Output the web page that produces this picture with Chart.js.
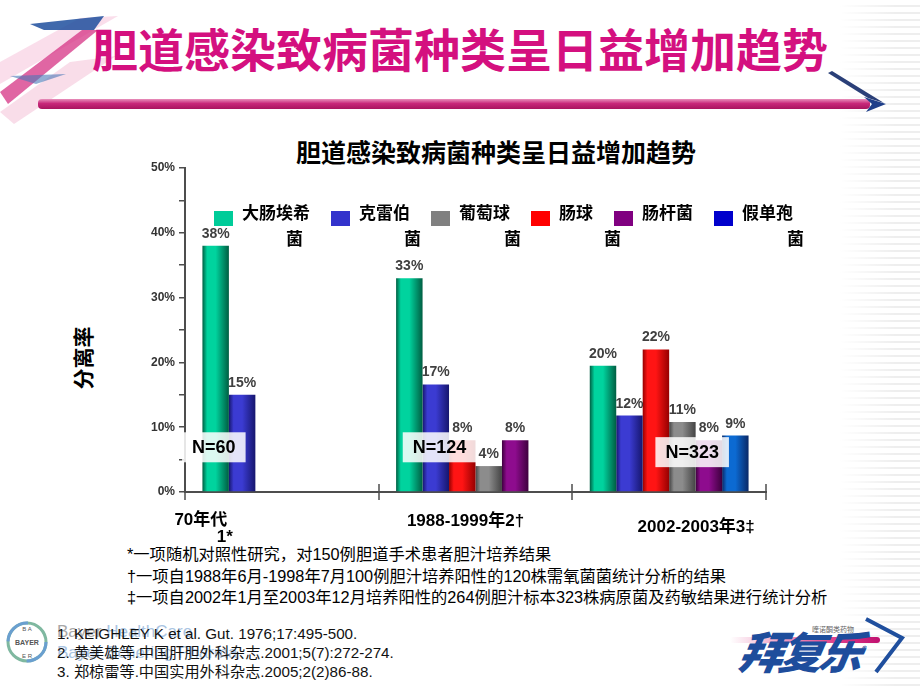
<!DOCTYPE html>
<html>
<head>
<meta charset="utf-8">
<script src="https://cdn.jsdelivr.net/npm/chart.js@4.4.1/dist/chart.umd.min.js"></script>
<style>
body { margin: 0; background: #fff; }
#slide { position: relative; width: 920px; height: 690px; overflow: hidden; background: #fff; font-family: 'Noto Sans CJK SC', sans-serif; }
#slide > * { position: absolute; }
.stripes { left: 840px; top: 0; width: 80px; height: 690px;
  background: linear-gradient(to right, #fff, rgba(255,255,255,0) 70%), repeating-linear-gradient(to bottom, #fff 0 5px, #eeeeee 5px 7px); }
.mainTitle { left: 92px; top: 22px; font-size: 46px; line-height: 50px; font-weight: bold; color: #d4107f; white-space: nowrap; }
.pinkBar { left: 38px; top: 99px; width: 832px; height: 10px; border-radius: 4px;
  background: linear-gradient(to bottom, #e890bb, #c8287a 45%, #a8155f); }
.chartTitle { left: 246px; top: 136px; width: 500px; text-align: center; font-size: 25px; line-height: 30px; font-weight: bold; color: #000; }
.yTitle { left: 47px; top: 346px; width: 70px; height: 24px; line-height: 24px; text-align: center; font-size: 21px; font-weight: bold; color: #000; transform: rotate(-90deg); }
.notes { left: 127px; top: 544px; font-family: 'Liberation Sans', Arial, 'Noto Sans CJK SC', sans-serif; font-size: 16.3px; line-height: 21.5px; color: #000; white-space: nowrap; }
.bayerText { left: 57px; top: 621px; font-family: 'Liberation Sans', Arial, sans-serif; font-size: 17px; line-height: 21px; color: #a9c4e2; white-space: nowrap; }
.refs { left: 57px; top: 624px; font-family: 'Liberation Sans', Arial, 'Noto Sans CJK SC', sans-serif; font-size: 15.2px; line-height: 19px; color: #111; white-space: nowrap; }
.brand { left: 740px; top: 626px; font-size: 44px; line-height: 48px; font-weight: 900; font-style: italic; color: #1e4d9c; letter-spacing: -4px; transform: skewX(-10deg); }
.brandSmall { left: 812px; top: 624px; font-size: 7px; color: #666; }
.swoosh { left: 730px; top: 637px; width: 150px; height: 6px; border-radius: 3px;
  background: linear-gradient(to right, rgba(235,140,185,0), #e0408a 70%, #c01070); }
#chartBox { left: 0; top: 0; width: 920px; height: 690px; }
</style>
</head>
<body>
<div id="slide">
  <div class="stripes"></div>
  <svg style="left:0;top:0" width="200" height="130">
    <polygon points="0,62 80,18 118,16 0,84" fill="#f3b6d2" opacity="0.45"/>
    <polygon points="0,112 70,62 116,56 14,124" fill="#f1a9c9" opacity="0.4"/>
    <polygon points="30,24 104,16 94,30 44,30" fill="#1f4f9e" opacity="0.85"/>
    <polygon points="0,92 82,30 98,30 8,104" fill="#d63384" opacity="0.75"/>
    <polygon points="10,76 66,74 36,84" fill="#4a78b8" opacity="0.6"/>
  </svg>
  <div class="mainTitle">胆道感染致病菌种类呈日益增加趋势</div>
  <div class="pinkBar"></div>
  <svg style="left:820px;top:66px" width="80" height="50">
    <polygon points="8,7 12,5 64,37 48,32" fill="#2a3f78"/>
    <polygon points="44,31 66,38 46,46 52,38" fill="#1f3f8a"/>
  </svg>
  <div class="chartTitle">胆道感染致病菌种类呈日益增加趋势</div>
  <div class="yTitle">分离率</div>
  <div class="notes">*一项随机对照性研究，对150例胆道手术患者胆汁培养结果<br>†一项自1988年6月-1998年7月100例胆汁培养阳性的120株需氧菌菌统计分析的结果<br>‡一项自2002年1月至2003年12月培养阳性的264例胆汁标本323株病原菌及药敏结果进行统计分析</div>
  <svg style="left:5px;top:620px" width="44" height="44">
    <circle cx="22" cy="22" r="19" fill="#fff" stroke="#7fb8a0" stroke-width="3"/>
    <circle cx="22" cy="22" r="19" fill="none" stroke="#6a9fd0" stroke-width="3" stroke-dasharray="30 30"/>
    <text x="22" y="25" font-size="7" font-family="Liberation Sans" font-weight="bold" fill="#555" text-anchor="middle">BAYER</text>
    <text x="22" y="11" font-size="6" font-family="Liberation Sans" fill="#555" text-anchor="middle">B A</text>
    <text x="22" y="38" font-size="6" font-family="Liberation Sans" fill="#555" text-anchor="middle">E R</text>
  </svg>
  <div class="bayerText"><span style="color:#a8a8a8">Bayer</span> HealthCare<br>Bayer Schering Pharma</div>
  <div class="refs">1. KEIGHLEY K et al. Gut. 1976;17:495-500.<br>2. 黄美雄等.中国肝胆外科杂志.2001;5(7):272-274.<br>3. 郑椋雷等.中国实用外科杂志.2005;2(2)86-88.</div>
  <div class="swoosh"></div>
  <div class="brandSmall">喹诺酮类药物</div>
  <div class="brand">拜复乐<span style="font-size:9px;vertical-align:top;">®</span></div>
  <svg style="left:860px;top:614px" width="50" height="66">
    <polyline points="6,5 42,24 16,58" fill="none" stroke="#1f4f9e" stroke-width="4"/>
  </svg>
  <div id="chartBox"><canvas id="bacteriaChart"></canvas></div>
</div>
<script>
// periods (categories) and their footnote marks
const periods = ["70年代", "1988-1999年2†", "2002-2003年3‡"];
const periodNotes = ["1*", "", ""];
const sampleSizes = ["N=60", "N=124", "N=323"];

// isolation rate (%) per pathogen, one value per period
const seriesNames = ["大肠埃希菌", "克雷伯菌", "肠球菌", "葡萄球菌", "肠杆菌", "假单孢菌"];
const ecoli = [38, 33, 19.5];
const klebsiella = [15, 16.6, 11.8];
const enterococcus = [null, 8, 22];
const staphylococcus = [null, 4, 10.8];
const enterobacter = [null, 8, 8];
const pseudomonas = [null, null, 8.7];

// y axis: 0% - 50%, label every 10%
const yMax = 50;
const yStep = 5;

const lightColors = ["#00d39e", "#3b3bd2", "#ff1414", "#8c8c8c", "#8e0c8e", "#0c6ad2"];
const darkColors = ["#005e42", "#16166e", "#960000", "#444444", "#3e003e", "#0a2866"];
const legendColors = ["#00cc99", "#3333cc", "#ff0000", "#808080", "#800080", "#0000cc"];

// legend is drawn in this order, with the names wrapped like in the slide
const legendOrder = [0, 1, 3, 2, 4, 5];
const legendLines = [["大肠埃希", "菌"], ["克雷伯", "菌"], ["葡萄球", "菌"], ["肠球", "菌"], ["肠杆菌"], ["假单孢", "菌"]];
const legendWrapShift = [-24, -6, -6, 11, 0, -6];

const catPct = 0.82;
const catLabelShift = [-81, -10, 27];
const catLabelDrop = [28, 29, 35];
const nBoxShift = [-68, -36, 23];
const nBoxLevel = [6.9, 6.9, 6.15];

const LATIN = "'Liberation Sans', Arial, 'Noto Sans CJK SC', sans-serif";
const CJK = "'Noto Sans CJK SC', sans-serif";

function barFill(c) {
    const chart = c.chart;
    const x = chart.scales.x;
    const di = c.datasetIndex;
    if (!x || !chart.chartArea) return lightColors[di];
    const groupW = (x.width / periods.length) * catPct;
    const w = groupW / seriesNames.length;
    const left = x.getPixelForValue(c.dataIndex) - groupW / 2 + w * di;
    const g = chart.ctx.createLinearGradient(left, 0, left + w, 0);
    g.addColorStop(0, darkColors[di]);
    g.addColorStop(0.18, lightColors[di]);
    g.addColorStop(0.5, lightColors[di]);
    g.addColorStop(1, darkColors[di]);
    return g;
}

const annotate = {
    id: "annotate",
    afterDraw(chart) {
        const { ctx, chartArea, scales: { x, y } } = chart;
        ctx.save();

        // category boundary ticks crossing the x axis
        ctx.strokeStyle = "#4d4d4d";
        ctx.lineWidth = 1.5;
        for (let i = 0; i <= periods.length; i++) {
            const bx = Math.round(x.getPixelForValue(i - 0.5));
            ctx.beginPath();
            ctx.moveTo(bx, chartArea.bottom - 8);
            ctx.lineTo(bx, chartArea.bottom + 8);
            ctx.stroke();
        }

        // value labels
        ctx.font = "bold 14px " + LATIN;
        ctx.fillStyle = "#404040";
        ctx.textAlign = "center";
        ctx.textBaseline = "alphabetic";
        chart.data.datasets.forEach((ds, di) => {
            chart.getDatasetMeta(di).data.forEach((bar, i) => {
                const v = ds.data[i];
                if (v === null) return;
                ctx.fillText(Math.round(v) + "%", bar.x, bar.y - 8);
            });
        });

        // N= boxes
        ctx.font = "bold 18px " + LATIN;
        ctx.textBaseline = "middle";
        sampleSizes.forEach((txt, i) => {
            const cx = x.getPixelForValue(i) + nBoxShift[i];
            const cy = y.getPixelForValue(nBoxLevel[i]);
            const w = ctx.measureText(txt).width + 20;
            ctx.fillStyle = "rgba(255,255,255,0.86)";
            ctx.fillRect(cx - w / 2, cy - 15, w, 30);
            ctx.fillStyle = "#000";
            ctx.fillText(txt, cx, cy + 1);
        });

        // category labels
        ctx.font = "bold 17px " + LATIN;
        periods.forEach((p, i) => {
            const cx = x.getPixelForValue(i) + catLabelShift[i];
            const cy = chartArea.bottom + catLabelDrop[i];
            ctx.fillText(p, cx, cy);
            if (periodNotes[i]) ctx.fillText(periodNotes[i], cx + 24, cy + 17);
        });

        // legend
        let lx = chartArea.left + 29;
        const ly = chartArea.top + 43;
        ctx.textAlign = "left";
        ctx.font = "bold 17px " + CJK;
        legendOrder.forEach((di, k) => {
            ctx.fillStyle = legendColors[di];
            ctx.fillRect(lx, ly, 19, 15);
            ctx.fillStyle = "#000";
            const tx = lx + 28;
            const lines = legendLines[k];
            ctx.fillText(lines[0], tx, ly + 2);
            const w0 = ctx.measureText(lines[0]).width;
            if (lines[1]) ctx.fillText(lines[1], tx + w0 + legendWrapShift[k], ly + 28);
            lx = tx + w0 + 21;
        });

        ctx.restore();
    }
};

const seriesData = [ecoli, klebsiella, enterococcus, staphylococcus, enterobacter, pseudomonas];

new Chart(document.getElementById("bacteriaChart"), {
    type: "bar",
    data: {
        labels: periods,
        datasets: seriesData.map((d, i) => ({
            label: seriesNames[i],
            data: d,
            backgroundColor: barFill,
            borderWidth: 0,
            categoryPercentage: catPct,
            barPercentage: 1
        }))
    },
    options: {
        responsive: true,
        maintainAspectRatio: false,
        animation: false,
        devicePixelRatio: 1,
        layout: { padding: { top: 168, right: 154, bottom: 138, left: 0 } },
        plugins: {
            legend: { display: false },
            tooltip: { enabled: false },
            title: { display: false }
        },
        scales: {
            x: {
                grid: { display: false },
                border: { color: "#4d4d4d", width: 2 },
                ticks: { display: false },
                afterFit(s) { s.height = 60; }
            },
            y: {
                min: 0,
                max: yMax,
                ticks: {
                    stepSize: yStep,
                    padding: 4,
                    color: "#333",
                    font: { family: LATIN, size: 12, weight: "bold" },
                    callback: v => (v % 10 === 0 ? v + "%" : "")
                },
                grid: { drawOnChartArea: false, tickLength: 6, color: "#4d4d4d", lineWidth: 1.5 },
                border: { color: "#4d4d4d", width: 2 },
                afterFit(s) { s.width = 185; }
            }
        }
    },
    plugins: [annotate]
});
</script>
</body>
</html>
